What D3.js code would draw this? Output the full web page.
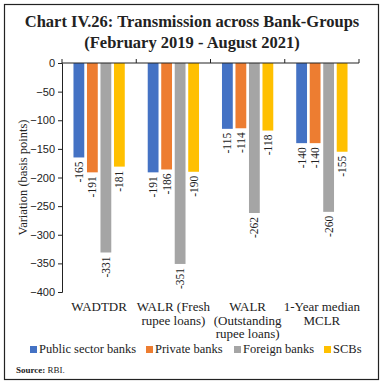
<!DOCTYPE html>
<html>
<head>
<meta charset="utf-8">
<script src="https://cdn.jsdelivr.net/npm/d3@7"></script>
<style>
  body { margin: 0; background: #fff; }
  svg { display: block; }
</style>
</head>
<body>
<div id="chart"></div>
<script>
// data
var categories = ["WADTDR", "WALR (Fresh rupee loans)", "WALR (Outstanding rupee loans)", "1-Year median MCLR"];
var categoryLines = [["WADTDR"], ["WALR (Fresh", "rupee loans)"], ["WALR", "(Outstanding", "rupee loans)"], ["1-Year median", "MCLR"]];
var seriesNames = ["Public sector banks", "Private banks", "Foreign banks", "SCBs"];
var publicBanks = [-165, -191, -115, -140];
var privateBanks = [-191, -186, -114, -140];
var foreignBanks = [-331, -351, -262, -260];
var scbs = [-181, -190, -118, -155];
var yTicks = [0, -50, -100, -150, -200, -250, -300, -350, -400];

var colors = ["#4472c4", "#ed7d31", "#a5a5a5", "#ffc000"];
var seriesValues = [publicBanks, privateBanks, foreignBanks, scbs];

var width = 384, height = 384;
var margin = {left: 62, right: 25, top: 63, bottom: 92};

var svg = d3.select("#chart").append("svg")
    .attr("width", width)
    .attr("height", height);

// frame
svg.append("rect")
    .attr("x", 4.5).attr("y", 4.5)
    .attr("width", 374).attr("height", 375)
    .attr("fill", "none")
    .attr("stroke", "#222")
    .attr("stroke-width", 1.2);

// title
svg.append("text")
    .attr("x", 192).attr("y", 27)
    .attr("text-anchor", "middle")
    .style("font-family", "'Liberation Serif', 'DejaVu Serif', serif")
    .style("font-weight", "bold")
    .style("font-size", "16.5px")
    .attr("fill", "#222")
    .text("Chart IV.26: Transmission across Bank-Groups");
svg.append("text")
    .attr("x", 192).attr("y", 48)
    .attr("text-anchor", "middle")
    .style("font-family", "'Liberation Serif', 'DejaVu Serif', serif")
    .style("font-weight", "bold")
    .style("font-size", "16.5px")
    .attr("fill", "#222")
    .text("(February 2019 - August 2021)");

// scales
var x0 = d3.scaleBand()
    .domain(categories)
    .range([margin.left, width - margin.right])
    .paddingInner(0)
    .paddingOuter(0);

var x1 = d3.scaleBand()
    .domain(seriesNames)
    .range([0, x0.bandwidth()])
    .paddingInner(0.2)
    .paddingOuter(0.85);

var y = d3.scaleLinear()
    .domain([-400, 0])
    .range([height - margin.bottom, margin.top]);

// bars
var groups = svg.selectAll(".group")
    .data(categories)
    .enter().append("g")
    .attr("class", "group")
    .attr("transform", function(d) { return "translate(" + x0(d) + ",0)"; });

seriesNames.forEach(function(s, si) {
    groups.append("rect")
        .attr("x", x1(s))
        .attr("y", y(0))
        .attr("width", x1.bandwidth())
        .attr("height", function(d, i) { return y(seriesValues[si][i]) - y(0); })
        .attr("fill", colors[si]);

    groups.append("text")
        .attr("transform", function(d, i) {
            var cx = x1(s) + x1.bandwidth() / 2 + 4;
            var cy = y(seriesValues[si][i]) + 4;
            return "translate(" + cx + "," + cy + ") rotate(-90)";
        })
        .attr("text-anchor", "end")
        .style("font-family", "'Liberation Serif', 'DejaVu Serif', serif")
        .style("font-size", "11.5px")
        .attr("fill", "#222")
        .text(function(d, i) { return seriesValues[si][i]; });
});

// y axis
var yAxis = svg.append("g")
    .attr("transform", "translate(" + margin.left + ",0)")
    .call(d3.axisLeft(y).tickValues(yTicks).tickSize(4).tickFormat(d3.format("d")));
yAxis.select(".domain").attr("stroke", "#222");
yAxis.selectAll(".tick line").attr("stroke", "#222");
yAxis.selectAll(".tick text")
    .style("font-family", "'Liberation Sans', Arial, sans-serif")
    .style("font-size", "11px")
    .attr("fill", "#222");

// x axis line at zero with category ticks
var xAxis = svg.append("g")
    .attr("transform", "translate(0," + y(0) + ")");
xAxis.append("line")
    .attr("x1", margin.left).attr("x2", width - margin.right)
    .attr("y1", 0).attr("y2", 0)
    .attr("stroke", "#222");
var boundaries = categories.map(function(c) { return x0(c); }).concat([width - margin.right]);
xAxis.selectAll(".xt")
    .data(boundaries)
    .enter().append("line")
    .attr("x1", function(d) { return d; }).attr("x2", function(d) { return d; })
    .attr("y1", -4).attr("y2", 0)
    .attr("stroke", "#222");

// y label
svg.append("text")
    .attr("transform", "translate(27," + (y(-200)) + ") rotate(-90)")
    .attr("text-anchor", "middle")
    .style("font-family", "'Liberation Serif', 'DejaVu Serif', serif")
    .style("font-size", "12.5px")
    .attr("fill", "#222")
    .text("Variation (basis points)");

// category labels
categoryLines.forEach(function(lines, ci) {
    var t = svg.append("text")
        .attr("text-anchor", "middle")
        .style("font-family", "'Liberation Serif', 'DejaVu Serif', serif")
        .style("font-size", "13px")
        .attr("fill", "#222");
    lines.forEach(function(l, li) {
        t.append("tspan")
            .attr("x", x0(categories[ci]) + x0.bandwidth() / 2)
            .attr("y", 311 + li * 13.5)
            .text(l);
    });
});

// legend
var legendX = [30, 146, 234, 324];
seriesNames.forEach(function(s, i) {
    svg.append("rect")
        .attr("x", legendX[i]).attr("y", 346)
        .attr("width", 7).attr("height", 7)
        .attr("fill", colors[i]);
    svg.append("text")
        .attr("x", legendX[i] + 9).attr("y", 353)
        .style("font-family", "'Liberation Serif', 'DejaVu Serif', serif")
        .style("font-size", "12.5px")
        .attr("fill", "#222")
        .text(s);
});

// source
var src = svg.append("text")
    .attr("x", 16).attr("y", 373)
    .style("font-family", "'Liberation Serif', 'DejaVu Serif', serif")
    .style("font-size", "9px")
    .attr("fill", "#222");
src.append("tspan").style("font-weight", "bold").text("Source:");
src.append("tspan").text(" RBI.");
</script>
</body>
</html>
